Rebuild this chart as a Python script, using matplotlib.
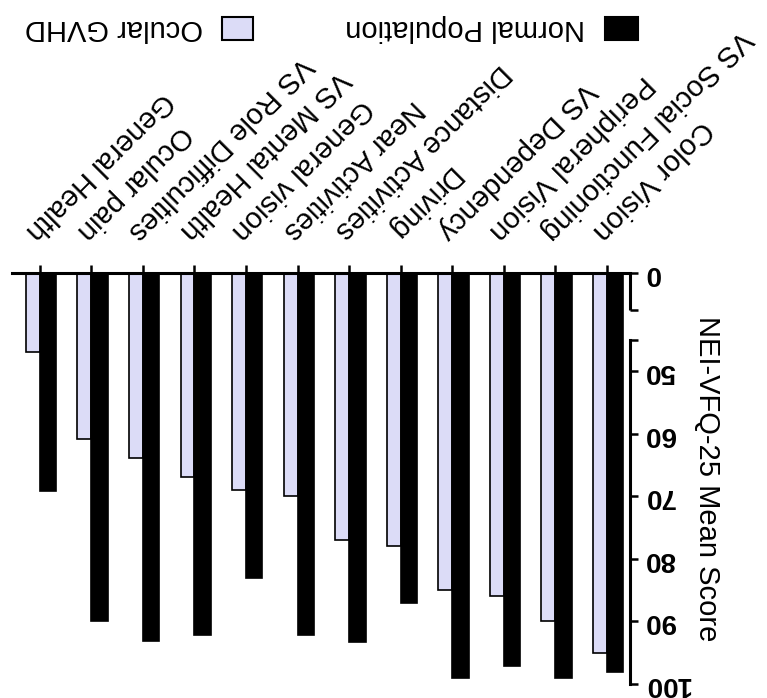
import numpy as np
import matplotlib
matplotlib.use("Agg")
from matplotlib import pyplot as plt
from matplotlib.patches import Rectangle

plt.rcParams['font.family'] = ['Liberation Sans', 'DejaVu Sans']

# Datos (orden original del grafico, de izquierda a derecha antes de girarlo)
categorias = ["Color Vision", "VS Social Functioning", "Peripheral Vision", "VS Dependency",
              "Driving", "Distance Activities", "Near Activities", "General vision",
              "VS Mental Health", "VS Role Difficulties", "Ocular pain", "General Health"]
poblacion_normal = [98.1, 99.0, 97.1, 99.0, 87.0, 93.3, 92.1, 83.0, 92.1, 93.1, 90.0, 69.2]
gvhd_ocular = [95.0, 90.0, 85.9, 84.9, 78.0, 76.9, 70.0, 69.0, 66.9, 63.9, 60.8, 46.9]
marcas_y = [0, 25, 45, 50, 60, 70, 80, 90, 100]
etiquetas_y = ["0", "", "", "50", "60", "70", "80", "90", "100"]

color_gvhd = '#DCDCF7'
color_normal = 'black'

# Eje y cortado: de 0 a 45 comprimido
corte = 45.0
k = 0.238


def adelante(v):
    v = np.asarray(v, dtype=float)
    return np.where(v >= corte, v, corte - (corte - v) * k)


def inversa(u):
    u = np.asarray(u, dtype=float)
    return np.where(u >= corte, u, corte - (corte - u) / k)


def px(x, y):
    # pixel de la imagen -> coordenadas de figura
    return x / 767, 1 - y / 698


fig = plt.figure(figsize=(7.67, 6.98), dpi=100)
ax = fig.add_axes([12/767, 14/698, 618/767, 411/698])
ax.set_yscale('function', functions=(adelante, inversa))

x = np.arange(len(categorias))
ax.bar(x - 0.16, poblacion_normal, width=0.32, color=color_normal, edgecolor='black',
       linewidth=1.2, zorder=3)
ax.bar(x + 0.135, gvhd_ocular, width=0.27, color=color_gvhd, edgecolor='black',
       linewidth=1.2, zorder=2)

# Todo girado 180 grados
ax.set_xlim(11.54, -0.45)
ax.set_ylim(100, 0)

for s in ['left', 'bottom']:
    ax.spines[s].set_visible(False)
ax.spines['top'].set_linewidth(2.2)
ax.spines['right'].set_linewidth(2.2)
ax.spines['right'].set_bounds(45, 100)
ax.plot([1, 1], [0, 25], transform=ax.get_yaxis_transform(), color='black',
        lw=2.2, clip_on=False, solid_capstyle='butt')

ax.yaxis.tick_right()
ax.set_yticks(marcas_y)
ax.set_yticklabels(etiquetas_y, fontweight='bold', fontsize=20, va='center')
ax.tick_params(axis='y', direction='out', length=6, width=1.8, labelrotation=180, pad=4)
ax.yaxis.set_label_position('right')
ax.set_ylabel("NEI-VFQ-25 Mean Score", fontsize=21, rotation=270, labelpad=22)

ax.xaxis.tick_top()
ax.set_xticks(x)
ax.set_xticklabels(categorias, fontsize=21, rotation=225, ha='right', va='top',
                   rotation_mode='anchor')
ax.tick_params(axis='x', direction='out', length=6, width=1.8, pad=14)

# Leyenda (tambien girada)
fig.add_artist(Rectangle(px(222, 40), 31/767, 23/698, transform=fig.transFigure,
                         facecolor=color_gvhd, edgecolor='black', lw=1.5))
fig.text(*px(203, 28.5), "Ocular GVHD", rotation=180, ha='right', va='center', fontsize=21)
fig.add_artist(Rectangle(px(605, 40), 33/767, 23/698, transform=fig.transFigure,
                         facecolor=color_normal, edgecolor='black', lw=1.5))
fig.text(*px(585, 28.5), "Normal Population", rotation=180, ha='right', va='center', fontsize=21)

fig.savefig("out.png", dpi=100)
